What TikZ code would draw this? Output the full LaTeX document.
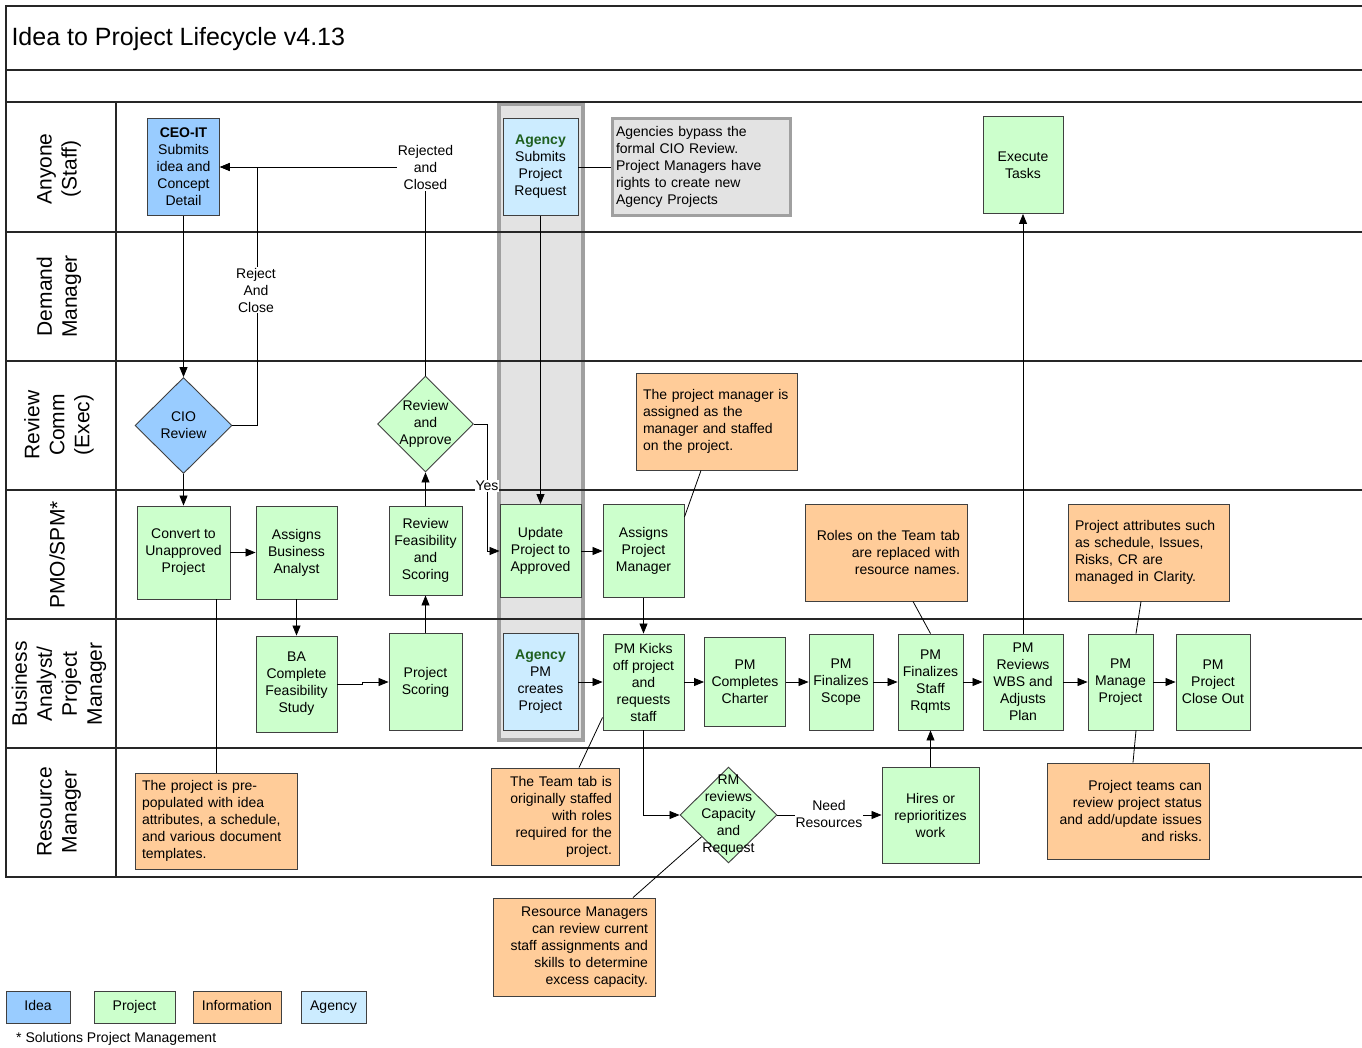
\documentclass[tikz,border=0pt]{standalone}
\usepackage{fontspec}
\setmainfont{Liberation Sans}
\usetikzlibrary{shapes.geometric,arrows.meta,calc}
\definecolor{ideablue}{HTML}{99CCFF}
\definecolor{projgreen}{HTML}{CCFFCC}
\definecolor{infoorange}{HTML}{FFCC99}
\definecolor{agencyblue}{HTML}{CCECFF}
\definecolor{agencytext}{HTML}{1F5F1F}
\definecolor{bandfill}{HTML}{E3E3E3}
\definecolor{bandline}{HTML}{A0A0A0}
\definecolor{boxline}{HTML}{404040}
\tikzset{
  base/.style={font=\fontsize{14}{17}\selectfont, text=black},
  sz/.style 2 args={minimum width=#1, minimum height=#2},
  box/.style={base, draw=boxline, line width=0.9pt, inner sep=0pt, align=center},
  proj/.style={box, fill=projgreen},
  idea/.style={box, fill=ideablue},
  agcy/.style={box, fill=agencyblue},
  info/.style={box, fill=infoorange, inner xsep=7pt},
  legend/.style={text height=10pt, text depth=3pt},
  dia/.style={draw=boxline, line width=0.9pt, shape=diamond, inner sep=0pt},
  dtext/.style={base, align=center, inner sep=0pt},
  lane/.style={rotate=90, align=center, font=\fontsize{21}{25}\selectfont},
  lbl/.style={base, fill=white, align=center, inner sep=1pt},
  frame/.style={line width=1.3pt, black!85},
  conn/.style={line width=0.8pt, black},
  arr/.style={conn, -{Triangle[length=10pt,width=8pt]}},
}
\begin{document}
\begin{tikzpicture}[x=1pt, y=-1pt]
\useasboundingbox (0,0) rectangle (1362,1047);

% agency band
\draw[bandline, fill=bandfill, line width=3.5pt] (499,104) rectangle (583,740);

% swimlane frame
\draw[frame] (1362,6) -- (6,6) -- (6,877) -- (1362,877);
\foreach \yy in {70,102,232,361,490,619,748}
  \draw[frame] (6,\yy) -- (1362,\yy);
\draw[frame] (116,102) -- (116,877);

% title and lane names
\node[anchor=west, font=\fontsize{25}{30}\selectfont] (title) at (8,39.5) {Idea to Project Lifecycle v4.13};
\node[lane] (l1) at (59,169) {Anyone\\(Staff)};
\node[lane] (l2) at (59,296.5) {Demand\\Manager};
\node[lane] (l3) at (59,425) {Review\\Comm\\(Exec)};
\node[lane] (l4) at (57,555) {PMO/SPM*};
\node[lane] (l5) at (59,684) {Business\\Analyst/\\Project\\Manager};
\node[lane] (l6) at (59,812) {Resource\\Manager};

% Anyone (Staff)
\node[idea, sz={72pt}{97pt}] (ceo) at (183.5,167) {\textbf{CEO-IT}\\Submits\\idea and\\Concept\\Detail};
\node[agcy, sz={75pt}{97pt}] (agsub) at (540.5,167) {\textcolor{agencytext}{\textbf{Agency}}\\Submits\\Project\\Request};
\node[box, fill=bandfill, draw=bandline, line width=3pt, sz={178pt}{97pt}, inner xsep=3.5pt, text width=171pt, align=left] (bypass) at (701.5,167) {Agencies bypass the\\formal CIO Review.\\Project Managers have\\rights to create new\\Agency Projects};
\node[proj, sz={80pt}{97pt}] (exec) at (1023,165) {Execute\\Tasks};

% Review Comm (Exec)
\node[dia, fill=ideablue, sz={97pt}{96pt}] (cio) at (183.5,425.5) {};
\node[dtext] (ciot) at (cio) {CIO\\Review};
\node[dia, fill=projgreen, sz={96pt}{96pt}] (ra) at (425.5,424) {};
\node[dtext] (rat) at (ra) {Review\\and\\Approve};
\node[info, sz={161pt}{97pt}, text width=147pt, align=left] (pmnote) at (716.5,421.5) {The project manager is\\assigned as the\\manager and staffed\\on the project.};

% PMO/SPM
\node[proj, sz={93pt}{93pt}] (convert) at (183.5,552.5) {Convert to\\Unapproved\\Project};
\node[proj, sz={81pt}{93pt}] (aba) at (296.5,552.5) {Assigns\\Business\\Analyst};
\node[proj, sz={73pt}{89pt}] (rfs) at (425.5,550.5) {Review\\Feasibility\\and\\Scoring};
\node[proj, sz={81pt}{93pt}] (upd) at (540.5,551) {Update\\Project to\\Approved};
\node[proj, sz={81pt}{93pt}] (apm) at (643.5,551) {Assigns\\Project\\Manager};
\node[info, sz={162pt}{97pt}, text width=148pt, align=right] (roles) at (886,552.5) {Roles on the Team tab\\are replaced with\\resource names.};
\node[info, sz={161pt}{97pt}, text width=147pt, align=left] (attrs) at (1148.5,552.5) {Project attributes such\\as schedule, Issues,\\Risks, CR are\\managed in Clarity.};

% Business Analyst / Project Manager
\node[proj, sz={81pt}{96pt}] (bacfs) at (296.5,684) {BA\\Complete\\Feasibility\\Study};
\node[proj, sz={73pt}{97pt}] (pscore) at (425.5,682) {Project\\Scoring};
\node[agcy, sz={75pt}{97pt}] (agpm) at (540.5,682) {\textcolor{agencytext}{\textbf{Agency}}\\PM\\creates\\Project};
\node[proj, sz={81pt}{96pt}] (kick) at (643.5,682) {PM Kicks\\off project\\and\\requests\\staff};
\node[proj, sz={81pt}{89pt}] (charter) at (745,682) {PM\\Completes\\Charter};
\node[proj, sz={64pt}{96pt}] (scope) at (841,682) {PM\\Finalizes\\Scope};
\node[proj, sz={65pt}{96pt}] (staff) at (930.5,682) {PM\\Finalizes\\Staff\\Rqmts};
\node[proj, sz={80pt}{96pt}] (wbs) at (1023,682) {PM\\Reviews\\WBS and\\Adjusts\\Plan};
\node[proj, sz={65pt}{96pt}] (manage) at (1120.5,682) {PM\\Manage\\Project};
\node[proj, sz={74pt}{96pt}] (closeout) at (1213,682) {PM\\Project\\Close Out};

% Resource Manager
\node[info, sz={162pt}{96pt}, text width=148pt, align=left] (prepop) at (216,821) {The project is pre-\\populated with idea\\attributes, a schedule,\\and various document\\templates.};
\node[info, sz={128pt}{97pt}, text width=114pt, align=right] (team) at (555,816.5) {The Team tab is\\originally staffed\\with roles\\required for the\\project.};
\node[dia, fill=projgreen, sz={97pt}{96pt}] (rm) at (728.5,815) {};
\node[dtext] (rmt) at (rm) {RM\\reviews\\Capacity\\and\\Request};
\node[proj, sz={97pt}{96pt}] (hires) at (930.5,815) {Hires or\\reprioritizes\\work};
\node[info, sz={162pt}{96pt}, text width=148pt, align=right] (teams) at (1128,811) {Project teams can\\review project status\\and add/update issues\\and risks.};
\node[info, sz={162pt}{98pt}, text width=148pt, align=right] (resnote) at (574,947) {Resource Managers\\can review current\\staff assignments and\\skills to determine\\excess capacity.};

% flow
\draw[arr] (ceo.south) -- (cio.north);
\draw[arr] (cio.east) -- ++(24.5,0) |- (ceo.east);
\draw[arr] (ra.north) |- (ceo.east);
\draw[arr] (ra.east) -- ++(13.5,0) |- (upd.west);
\draw[arr] (cio.south) -- (convert.north);
\draw[arr] (convert.east) -- (aba.west);
\draw[arr] (aba.south) -- (bacfs.north);
\draw[arr] (bacfs.east) -- ++(25,0) |- (pscore.west);
\draw[arr] (pscore.north) -- (rfs.south);
\draw[arr] (rfs.north) -- (ra.south);
\draw[arr] (agsub.south) -- (upd.north);
\draw[arr] (upd.east) -- (apm.west);
\draw[arr] (apm.south) -- (kick.north);
\draw[arr] (agpm.east) -- (kick.west);
\draw[arr] (kick.east) -- (charter.west);
\draw[arr] (charter.east) -- (scope.west);
\draw[arr] (scope.east) -- (staff.west);
\draw[arr] (staff.east) -- (wbs.west);
\draw[arr] (wbs.east) -- (manage.west);
\draw[arr] (manage.east) -- (closeout.west);
\draw[arr] (kick.south) |- (rm.west);
\draw[arr] (rm.east) -- (hires.west);
\draw[arr] (hires.north) -- (staff.south);
\draw[arr] (wbs.north) -- (exec.south);

% callout lines
\draw[conn] (agsub.east) -- (bypass.west);
\draw[conn] ($(pmnote.south)+(-15.5,0)$) -- ($(apm.east)+(0,-34)$);
\draw[conn] (prepop.north) -- (prepop.north |- convert.south);
\draw[conn] ($(kick.south west)+(0,-13)$) -- ($(team.north)+(24,0)$);
\draw[conn] ($(rm.west)!0.45!(rm.south)$) -- ($(resnote.north)+(59,0)$);
\draw[conn] ($(roles.south)+(27,0)$) -- (staff.north);
\draw[conn] ($(attrs.south)+(-7.5,0)$) -- ($(manage.north)+(15.5,0)$);
\draw[conn] ($(manage.south)+(15.5,0)$) -- ($(teams.north)+(5,0)$);

% connector labels
\node[lbl] (rjc) at (425.5,167.5) {Rejected\\and\\Closed};
\node[lbl] (rac) at (256,290) {Reject\\And\\Close};
\node[lbl] (yes) at (487,486) {Yes};
\node[lbl] (need) at (829,814) {Need\\Resources};

% legend
\node[idea, legend, sz={64pt}{32pt}] (lgidea) at (38,1007) {Idea};
\node[proj, legend, sz={81pt}{32pt}] (lgproj) at (134.5,1007) {Project};
\node[info, legend, sz={88pt}{32pt}, inner xsep=0pt] (lginfo) at (237,1007) {Information};
\node[agcy, legend, sz={65pt}{32pt}] (lgagcy) at (333.5,1007) {Agency};
\node[base, anchor=west, inner sep=0pt] (foot) at (16,1039) {* Solutions Project Management};
\end{tikzpicture}
\end{document}
